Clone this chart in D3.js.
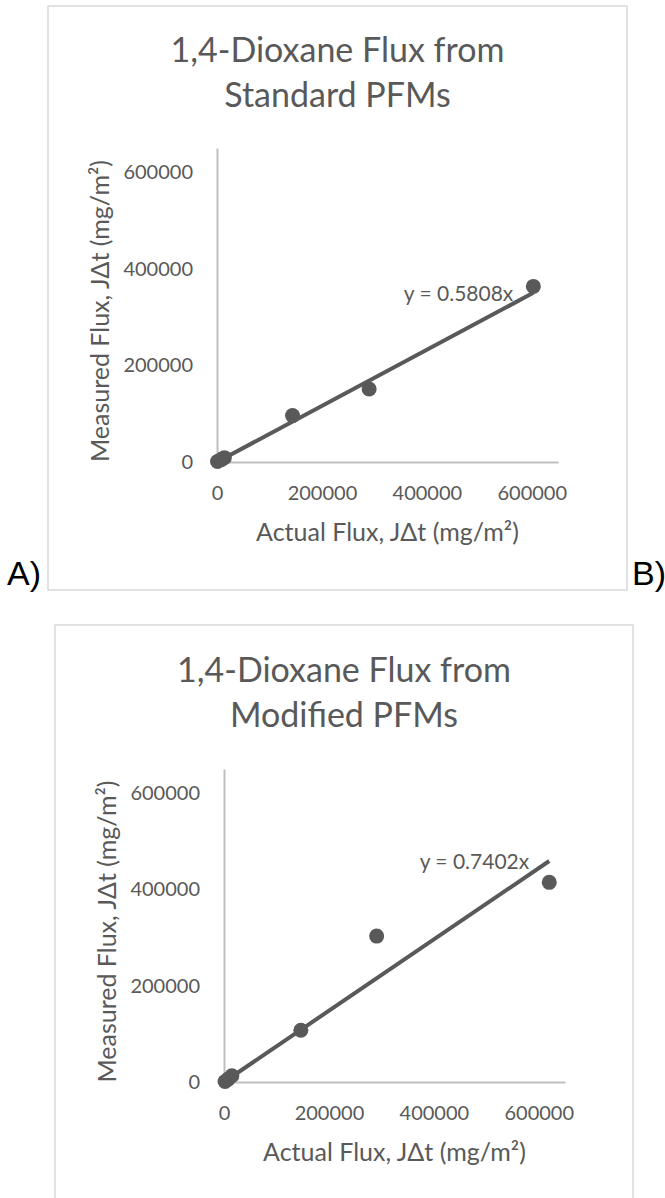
<!DOCTYPE html>
<html>
<head>
<meta charset="utf-8">
<script src="https://cdn.jsdelivr.net/npm/d3@7"></script>
<style>
  body { margin: 0; background: #fff; }
  text { font-family: Lato, "Open Sans", sans-serif; fill: #595959; }
</style>
</head>
<body>
<div class="grafico"></div>
<script>
const width = 665;
const height = 1198;

// Standard PFMs (chart A)
const actualA = [1000, 8000, 14000, 144000, 290000, 603000];
const measuredA = [1000, 5000, 9000, 96000, 151000, 363500];
const slopeA = 0.5808;
const titleA = ["1,4-Dioxane Flux from", "Standard PFMs"];

// Modified PFMs (chart B)
const actualB = [2000, 8000, 15000, 146500, 291000, 620000];
const measuredB = [1000, 6000, 13000, 107600, 303000, 414600];
const slopeB = 0.7402;
const titleB = ["1,4-Dioxane Flux from", "Modified PFMs"];

const axisMax = 650000;
const tickValues = [0, 200000, 400000, 600000];
const xTitle = "Actual Flux, JΔt (mg/m²)";
const yTitle = "Measured Flux, JΔt (mg/m²)";

const svg = d3.select(".grafico")
    .append("svg")
    .attr("width", width)
    .attr("height", height);

svg.append("rect")
    .attr("width", width)
    .attr("height", height)
    .attr("fill", "#fff");

function drawChart(cfg) {
    const g = svg.append("g");

    // chart frame
    g.append("rect")
        .attr("x", cfg.box[0])
        .attr("y", cfg.box[1])
        .attr("width", cfg.box[2])
        .attr("height", cfg.box[3])
        .attr("fill", "none")
        .attr("stroke", "#d9d9d9")
        .attr("stroke-width", 1.5);

    const x = d3.scaleLinear().domain([0, axisMax]).range([cfg.left, cfg.right]);
    const y = d3.scaleLinear().domain([0, axisMax]).range([cfg.bottom, cfg.top]);

    const cx = (cfg.box[0] + cfg.box[0] + cfg.box[2]) / 2;
    g.selectAll(".title")
        .data(cfg.title)
        .enter().append("text")
        .attr("class", "title")
        .attr("x", cx)
        .attr("y", (d, i) => cfg.bottom - 400 + i * 45)
        .attr("text-anchor", "middle")
        .style("font-size", "34px")
        .text(d => d);

    const xAxis = g.append("g")
        .attr("transform", `translate(0, ${cfg.bottom})`)
        .call(d3.axisBottom(x).tickValues(tickValues).tickSize(0).tickPadding(24).tickFormat(d3.format("d")));
    const yAxis = g.append("g")
        .attr("transform", `translate(${cfg.left}, 0)`)
        .call(d3.axisLeft(y).tickValues(tickValues).tickSize(0).tickPadding(24).tickFormat(d3.format("d")));

    [xAxis, yAxis].forEach(a => {
        a.select(".domain").attr("stroke", "#bfbfbf").attr("stroke-width", 2);
        a.selectAll("text")
            .attr("fill", "#595959")
            .style("font-family", "Lato, sans-serif")
            .style("font-size", "20px");
    });

    g.append("text")
        .attr("x", (cfg.left + cfg.right) / 2)
        .attr("y", cfg.bottom + 79)
        .attr("text-anchor", "middle")
        .style("font-size", "25px")
        .text(xTitle);

    g.append("text")
        .attr("transform", "rotate(-90)")
        .attr("x", -((cfg.top + cfg.bottom) / 2 + 6))
        .attr("y", cfg.left - 108)
        .attr("text-anchor", "middle")
        .style("font-size", "25px")
        .text(yTitle);

    // points
    g.selectAll(".pt")
        .data(cfg.actual)
        .enter().append("circle")
        .attr("class", "pt")
        .attr("cx", d => x(d))
        .attr("cy", (d, i) => y(cfg.measured[i]))
        .attr("r", 7.5)
        .attr("fill", "#595959");

    // linear trendline through origin
    const xEnd = d3.max(cfg.actual);
    const trend = [[0, 0], [xEnd, cfg.slope * xEnd]];
    g.append("path")
        .datum(trend)
        .attr("d", d3.line().x(d => x(d[0])).y(d => y(d[1])))
        .attr("stroke", "#595959")
        .attr("stroke-width", 4)
        .attr("fill", "none");

    g.append("text")
        .attr("x", x(xEnd) - 20)
        .attr("y", y(cfg.slope * xEnd) + 8)
        .attr("text-anchor", "end")
        .style("font-size", "21px")
        .text(`y = ${cfg.slope}x`);
}

drawChart({
    box: [48, 6, 579, 584],
    left: 217, right: 558, top: 148, bottom: 462,
    actual: actualA, measured: measuredA, slope: slopeA, title: titleA
});

drawChart({
    box: [55, 625, 578, 620],
    left: 224, right: 565, top: 769, bottom: 1082,
    actual: actualB, measured: measuredB, slope: slopeB, title: titleB
});

// panel letters
svg.append("text")
    .attr("x", 7)
    .attr("y", 585)
    .style("font-family", "'Liberation Sans', Arial, sans-serif")
    .style("font-size", "34px")
    .style("fill", "#000")
    .text("A)");
svg.append("text")
    .attr("x", 632)
    .attr("y", 585)
    .style("font-family", "'Liberation Sans', Arial, sans-serif")
    .style("font-size", "34px")
    .style("fill", "#000")
    .text("B)");
</script>
</body>
</html>
